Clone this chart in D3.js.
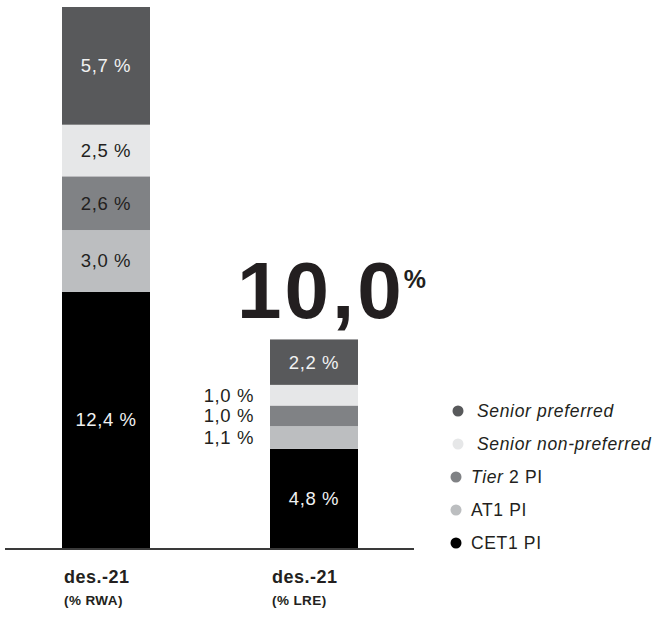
<!DOCTYPE html>
<html>
<head>
<meta charset="utf-8">
<script src="https://cdn.jsdelivr.net/npm/d3@7"></script>
<style>
  html, body { margin: 0; padding: 0; background: #fff; }
  svg { display: block; }
  text { font-family: "Liberation Sans", Arial, sans-serif; }
</style>
</head>
<body>
<svg id="chart" width="655" height="622"></svg>
<script>
// ---- data ----
const categories = ["des.-21 RWA", "des.-21 LRE"];
const categoryLabels = ["des.-21", "des.-21"];
const categorySubLabels = ["(% RWA)", "(% LRE)"];
const seriesNames = ["CET1 PI", "AT1 PI", "Tier 2 PI", "Senior non-preferred", "Senior preferred"];
const cet1 = [12.4, 4.8];
const at1 = [3.0, 1.1];
const tier2 = [2.6, 1.0];
const seniorNonPreferred = [2.5, 1.0];
const seniorPreferred = [5.7, 2.2];
const totalLabel = "10,0";
const legendOrder = ["Senior preferred", "Senior non-preferred", "Tier 2 PI", "AT1 PI", "CET1 PI"];

const seriesValues = [cet1, at1, tier2, seniorNonPreferred, seniorPreferred];
const colors = {
  "CET1 PI": "#000000",
  "AT1 PI": "#bcbec0",
  "Tier 2 PI": "#808285",
  "Senior non-preferred": "#e6e7e8",
  "Senior preferred": "#58595b"
};
const labelColors = {
  "CET1 PI": "#f1f2f2",
  "AT1 PI": "#231f20",
  "Tier 2 PI": "#231f20",
  "Senior non-preferred": "#231f20",
  "Senior preferred": "#f1f2f2"
};

const fmt = v => v.toFixed(1).replace(".", ",") + " %";

// build table
const table = categories.map((c, i) => {
  const row = { cat: c };
  seriesNames.forEach((s, k) => row[s] = seriesValues[k][i]);
  return row;
});
const stacked = d3.stack().keys(seriesNames)(table);

const svg = d3.select("#chart");
const baseY = 548;
const y = d3.scaleLinear().domain([0, 26.2]).range([baseY, 7]);
const x = d3.scalePoint().domain(categories).range([106, 314]);
const barW = 88;

// bars
const layers = svg.append("g").selectAll("g").data(stacked).join("g")
  .attr("fill", d => colors[d.key]);
layers.selectAll("rect").data(d => d.map(p => ({ p, key: d.key }))).join("rect")
  .attr("x", d => x(d.p.data.cat) - barW / 2)
  .attr("width", barW)
  .attr("y", d => y(d.p[1]))
  .attr("height", d => y(d.p[0]) - y(d.p[1]));

// labels
stacked.forEach(layer => {
  layer.forEach(p => {
    const v = p[1] - p[0];
    const h = y(p[0]) - y(p[1]);
    const cy = (y(p[0]) + y(p[1])) / 2;
    const inside = h > 30;
    svg.append("text")
      .attr("x", inside ? x(p.data.cat) : x(p.data.cat) - barW / 2 - 16)
      .attr("y", cy)
      .attr("dy", "0.35em")
      .attr("text-anchor", inside ? "middle" : "end")
      .attr("font-size", 18.5)
      .attr("letter-spacing", 0.6)
      .attr("fill", inside ? labelColors[layer.key] : "#231f20")
      .text(fmt(v));
  });
});

// baseline
svg.append("line")
  .attr("x1", 5).attr("x2", 414)
  .attr("y1", baseY + 1).attr("y2", baseY + 1)
  .attr("stroke", "#3a3a3a").attr("stroke-width", 2.2);

// category labels
categories.forEach((c, i) => {
  svg.append("text")
    .attr("x", x(c) - barW / 2 + 2).attr("y", 583)
    .attr("font-size", 18).attr("font-weight", "bold")
    .attr("letter-spacing", 0.5)
    .attr("fill", "#231f20")
    .text(categoryLabels[i]);
  svg.append("text")
    .attr("x", x(c) - barW / 2 + 2).attr("y", 605)
    .attr("font-size", 13.5).attr("font-weight", "bold")
    .attr("letter-spacing", 0.4)
    .attr("fill", "#231f20")
    .text(categorySubLabels[i]);
});

// total label
const tot = svg.append("text")
  .attr("x", 237).attr("y", 318)
  .attr("fill", "#231f20")
  .attr("font-weight", "bold");
tot.append("tspan").attr("font-size", 80).attr("letter-spacing", 3).text(totalLabel);
tot.append("tspan").attr("font-size", 25).attr("dx", -1).attr("dy", -30).text("%");

// legend
const legendY = [411, 444, 477, 510, 543];
legendOrder.forEach((name, i) => {
  const cx = i < 2 ? 458 : 456;
  svg.append("circle")
    .attr("cx", cx).attr("cy", legendY[i]).attr("r", 5.5)
    .attr("fill", colors[name]);
  const t = svg.append("text")
    .attr("x", i < 2 ? 477 : 471).attr("y", legendY[i])
    .attr("dy", "0.35em")
    .attr("font-size", 17.5).attr("letter-spacing", 0.65)
    .attr("fill", "#231f20");
  if (name === "Tier 2 PI") {
    t.append("tspan").attr("font-style", "italic").text("Tier");
    t.append("tspan").text(" 2 PI");
  } else if (name.startsWith("Senior")) {
    t.attr("font-style", "italic").text(name);
  } else {
    t.text(name);
  }
});
</script>
</body>
</html>
